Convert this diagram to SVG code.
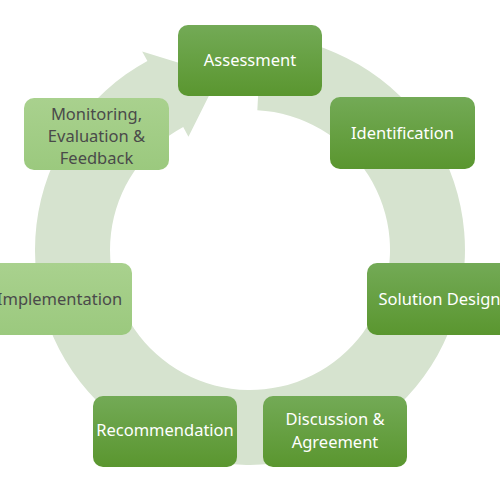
<svg xmlns="http://www.w3.org/2000/svg" width="500" height="500" viewBox="0 0 500 500">
  <defs>
    <linearGradient id="gDark" x1="0" y1="0" x2="0" y2="1">
      <stop offset="0" stop-color="#73aa56"/>
      <stop offset="1" stop-color="#5a962f"/>
    </linearGradient>
    <linearGradient id="gLight" x1="0" y1="0" x2="0" y2="1">
      <stop offset="0" stop-color="#a9d18e"/>
      <stop offset="1" stop-color="#9bc97e"/>
    </linearGradient>
    <style>
      .dark rect { fill: url(#gDark); }
      .light rect { fill: url(#gLight); }
      text { font-family: "Noto Sans", "Open Sans", sans-serif; font-size: 16.5px; text-anchor: middle; dominant-baseline: central; }
      .dark text { fill: #ffffff; }
      .light text { fill: #4a4a4a; }
      .ring { fill: #d6e3cf; }
    </style>
  </defs>
  <rect width="500" height="500" fill="#ffffff"/>
  <g id="connectors">
    <path class="ring" d="M 261.25 35.3 A 215 215 0 1 1 147.41 61.05 L 142.16 51.39 L 219.18 75.20 L 188.45 136.63 L 183.20 126.97 A 140 140 0 1 0 257.33 110.19 Z"/>
  </g>
  <g id="node-assessment" class="dark">
    <rect x="178" y="25" width="144" height="71" rx="10"/>
    <text x="250" y="59">Assessment</text>
  </g>
  <g id="node-identification" class="dark">
    <rect x="330" y="97" width="145" height="72" rx="10"/>
    <text x="402.5" y="132">Identification</text>
  </g>
  <g id="node-solution-design" class="dark">
    <rect x="367" y="263" width="145" height="72" rx="10"/>
    <text x="439.5" y="298">Solution Design</text>
  </g>
  <g id="node-discussion" class="dark">
    <rect x="263" y="396" width="144" height="71" rx="10"/>
    <text x="335" y="418">Discussion &amp;</text>
    <text x="335" y="441">Agreement</text>
  </g>
  <g id="node-recommendation" class="dark">
    <rect x="93" y="396" width="144" height="71" rx="10"/>
    <text x="165" y="429">Recommendation</text>
  </g>
  <g id="node-implementation" class="light">
    <rect x="-13" y="263" width="145" height="72" rx="10"/>
    <text x="59.5" y="298">Implementation</text>
  </g>
  <g id="node-monitoring" class="light">
    <rect x="24" y="98" width="145" height="72" rx="10"/>
    <text x="96.5" y="113">Monitoring,</text>
    <text x="96.5" y="135">Evaluation &amp;</text>
    <text x="96.5" y="157">Feedback</text>
  </g>
</svg>
